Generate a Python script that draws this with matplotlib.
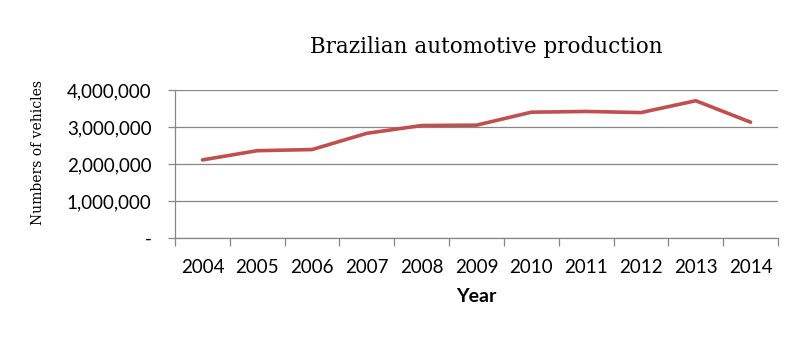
import matplotlib
matplotlib.use("Agg")
import matplotlib.pyplot as plt
import numpy as np
from matplotlib.ticker import FuncFormatter, FixedLocator

# ── Data ──────────────────────────────────────────────────────────────────────

years = ["2004", "2005", "2006", "2007", "2008", "2009",
         "2010", "2011", "2012", "2013", "2014"]
vehicles = [2110000, 2360000, 2390000, 2830000, 3040000, 3050000,
            3400000, 3420000, 3390000, 3710000, 3130000]
y_ticks = [0, 1000000, 2000000, 3000000, 4000000]

# ── Style ─────────────────────────────────────────────────────────────────────

LINE = "#C0504D"
GRID = "#868686"
SANS = ["Lato", "DejaVu Sans"]
SERIF = ["DejaVu Serif"]

fig = plt.figure(figsize=(8.04, 3.39), dpi=100)
ax = fig.add_axes([175 / 804, 1 - 238 / 339, (778 - 175) / 804, (238 - 90) / 339])

x = np.arange(len(years))
ax.plot(x, vehicles, color=LINE, linewidth=2.6, solid_capstyle="round")

ax.set_xlim(-0.5, len(years) - 0.5)
ax.set_ylim(0, 4000000)

# y axis
ax.set_yticks(y_ticks)
ax.yaxis.set_major_formatter(FuncFormatter(lambda v, p: "-" if v == 0 else f"{int(v):,}"))
ax.grid(axis="y", color=GRID, linewidth=0.9)
ax.set_axisbelow(True)
ax.tick_params(axis="y", length=5, width=0.9, color=GRID, pad=12, labelsize=13.5)

# x axis: labels centred, tick marks between categories
ax.set_xticks(x)
ax.set_xticklabels(years)
ax.xaxis.set_minor_locator(FixedLocator(np.arange(-0.5, len(years), 1.0)))
ax.tick_params(axis="x", which="major", length=0, pad=15, labelsize=13.5)
ax.tick_params(axis="x", which="minor", length=6, width=0.9, color=GRID)

for lbl in ax.get_xticklabels() + ax.get_yticklabels():
    lbl.set_family(SANS)

for side in ("top", "right"):
    ax.spines[side].set_visible(False)
for side in ("left", "bottom"):
    ax.spines[side].set_color(GRID)
    ax.spines[side].set_linewidth(0.9)

ax.set_xlabel("Year", family=SANS, fontsize=14, fontweight="bold", labelpad=9)
ax.set_ylabel("Numbers of vehicles", family=SERIF, fontsize=10)
ax.yaxis.set_label_coords((45 - 175) / 603, 0.58)

fig.text(486 / 804, 1 - 47 / 339, "Brazilian automotive production",
         family=SERIF, fontsize=15.5, ha="center", va="center")

plt.savefig("out.png", dpi=100)
plt.close()
